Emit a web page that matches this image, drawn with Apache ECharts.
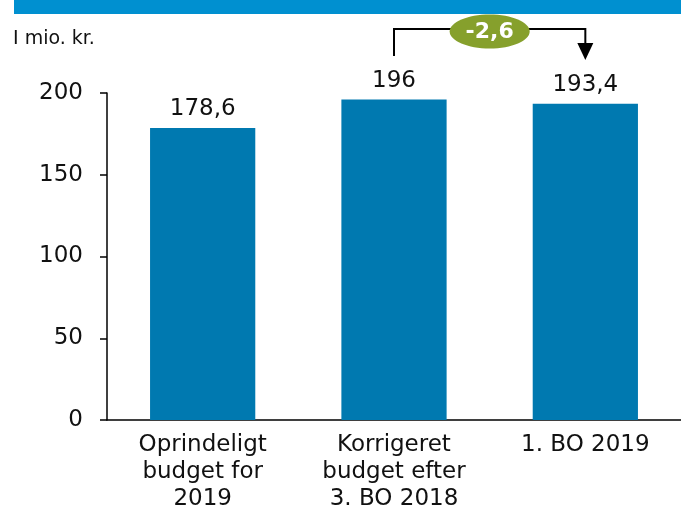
<!DOCTYPE html>
<html><head><meta charset="utf-8">
<script src="https://cdn.jsdelivr.net/npm/echarts@6/dist/echarts.min.js"></script>
<style>html,body{margin:0;padding:0;background:#fff}#c{width:681px;height:513px}</style>
</head><body><div id="c"></div>
<script>
const categories = ['Oprindeligt\nbudget for\n2019', 'Korrigeret\nbudget efter\n3. BO 2018', '1. BO 2019'];
const values = [178.6, 196, 193.4];
const yTicks = [0, 50, 100, 150, 200];
const unitLabel = 'I mio. kr.';
const changeLabel = '-2,6';

const chart = echarts.init(document.getElementById('c'), null, {renderer: 'canvas'});
const fmt = v => String(v).replace('.', ',');
const option = {
  animation: false,
  grid: {left: 107, right: -2, top: 93, bottom: 91},
  xAxis: {
    type: 'category', data: categories,
    axisLine: {lineStyle: {color: '#000', width: 1.5}},
    axisTick: {show: false},
    axisLabel: {color: '#111', fontFamily: 'DejaVu Sans', fontSize: 23, lineHeight: 27, margin: 12, interval: 0}
  },
  yAxis: {
    type: 'value', min: 0, max: 200, interval: 50,
    splitLine: {show: false},
    axisLine: {show: true, lineStyle: {color: '#000', width: 1.5}},
    axisTick: {show: true, length: 7, lineStyle: {color: '#000', width: 1.5}},
    axisLabel: {color: '#111', fontFamily: 'DejaVu Sans', fontSize: 23, margin: 24,
      formatter: v => yTicks.includes(v) ? String(v) : ''}
  },
  series: [{
    type: 'bar', data: values, barWidth: '55%',
    itemStyle: {color: '#0079B0'},
    label: {show: true, position: 'top', distance: 7, color: '#111', fontFamily: 'DejaVu Sans', fontSize: 23,
      formatter: p => fmt(p.value)}
  }]
};
chart.setOption(option);

const p1 = chart.convertToPixel({xAxisIndex: 0, yAxisIndex: 0}, [1, values[1]]);
const p2 = chart.convertToPixel({xAxisIndex: 0, yAxisIndex: 0}, [2, values[2]]);
const topY = 29, startY = 56, arrowTip = 60;
const midX = (p1[0] + p2[0]) / 2;
chart.setOption({
  graphic: [
    {type: 'rect', shape: {x: 14, y: 0, width: 667, height: 14}, style: {fill: '#0090D0'}},
    {type: 'text', left: 13, top: 30, style: {text: unitLabel, fill: '#111', font: '19px "DejaVu Sans"'}},
    {type: 'polyline', shape: {points: [[p1[0], startY], [p1[0], topY], [p2[0], topY], [p2[0], arrowTip - 15]]},
      style: {stroke: '#000', lineWidth: 2, fill: null}},
    {type: 'polygon', shape: {points: [[p2[0] - 8, arrowTip - 17], [p2[0] + 8, arrowTip - 17], [p2[0], arrowTip]]},
      style: {fill: '#000'}},
    {type: 'ellipse', shape: {cx: midX, cy: 31.5, rx: 40, ry: 17}, style: {fill: '#86A02C'}},
    {type: 'text', x: midX, y: 32, style: {text: changeLabel, fill: '#fff', font: 'bold 22px "DejaVu Sans"', align: 'center', verticalAlign: 'middle'}}
  ]
});
</script></body></html>
